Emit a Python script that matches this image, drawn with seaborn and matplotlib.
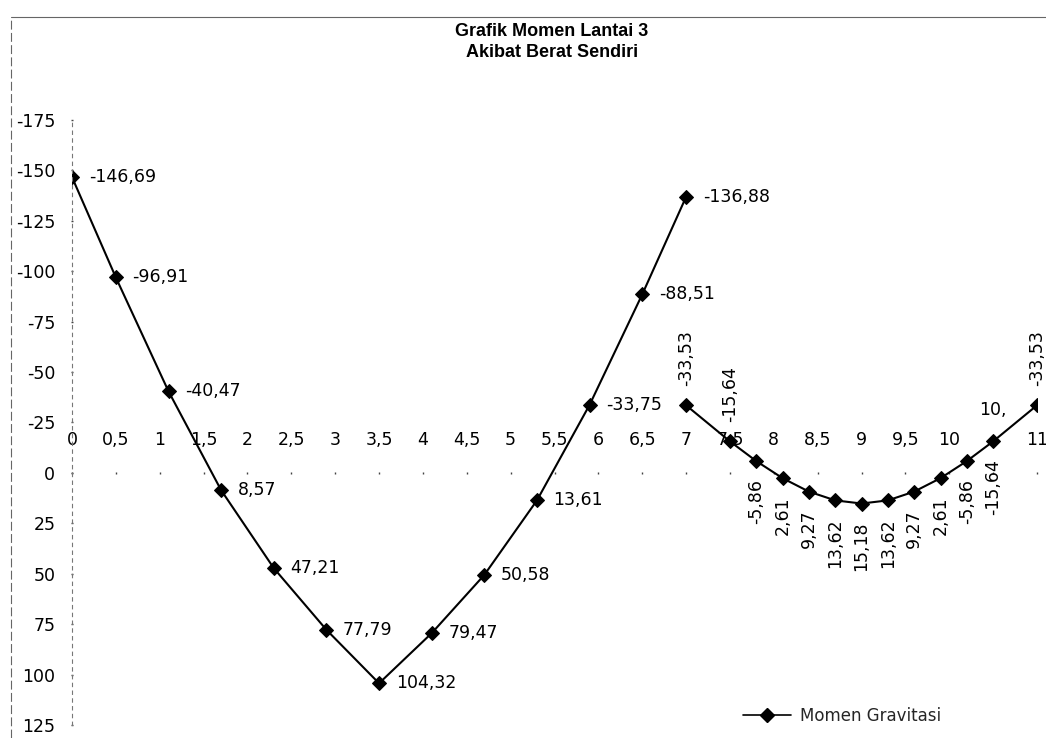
import matplotlib
matplotlib.use("Agg")
import matplotlib.pyplot as plt
from matplotlib.lines import Line2D
import pandas as pd
import seaborn as sns

# Bending moment, floor 3, self weight (kNm) along the beam (m)
x_span1 = [0.0, 0.5, 1.1, 1.7, 2.3, 2.9, 3.5, 4.1, 4.7, 5.3, 5.9, 6.5, 7.0]
m_span1 = [-146.69, -96.91, -40.47, 8.57, 47.21, 77.79, 104.32, 79.47, 50.58,
           13.61, -33.75, -88.51, -136.88]
x_span2 = [7.0, 7.5, 7.8, 8.1, 8.4, 8.7, 9.0, 9.3, 9.6, 9.9, 10.2, 10.5, 11.0]
m_span2 = [-33.53, -15.64, -5.86, 2.61, 9.27, 13.62, 15.18, 13.62, 9.27, 2.61,
           -5.86, -15.64, -33.53]

x_ticks = [0, 0.5, 1, 1.5, 2, 2.5, 3, 3.5, 4, 4.5, 5, 5.5, 6, 6.5, 7, 7.5, 8,
           8.5, 9, 9.5, 10, 10.5, 11]
x_tick_labels = ["0", "0,5", "1", "1,5", "2", "2,5", "3", "3,5", "4", "4,5",
                 "5", "5,5", "6", "6,5", "7", "7,5", "8", "8,5", "9", "9,5",
                 "10", "", "11"]
y_ticks = [-175, -150, -125, -100, -75, -50, -25, 0, 25, 50, 75, 100, 125]

series_name = "Momen Gravitasi"
title = "Grafik Momen Lantai 3\nAkibat Berat Sendiri"

sns.set_theme(style="white")
plt.rcParams["font.family"] = ["DejaVu Sans"]
plt.rcParams["axes.unicode_minus"] = False

W, H = 1046, 738
fig = plt.figure(figsize=(W / 100, H / 100), dpi=100)
fig.patch.set_facecolor("white")
ax = fig.add_axes([72 / W, 1 - 725 / H, (1037 - 72) / W, (725 - 120) / H])
ax.set_facecolor("white")

df = pd.concat([
    pd.DataFrame({"x": x_span1, "M": m_span1, "span": 1}),
    pd.DataFrame({"x": x_span2, "M": m_span2, "span": 2}),
])
sns.lineplot(data=df, x="x", y="M", units="span", estimator=None, sort=False,
             color="black", linewidth=1.5, marker="D", markersize=7.5,
             markeredgecolor="black", markerfacecolor="black", legend=False,
             ax=ax)

ax.set_xlim(0, 11)
ax.set_ylim(125, -175)
ax.set_xlabel("")
ax.set_ylabel("")

# category axis crosses the value axis at zero, labels sit above it
ax.spines["top"].set_position(("data", 0))
ax.spines["top"].set_visible(False)
ax.spines["bottom"].set_visible(False)
ax.spines["right"].set_visible(False)
ax.spines["left"].set_linestyle((0, (3, 4)))
ax.spines["left"].set_color("#777777")
ax.spines["left"].set_linewidth(0.8)

ax.xaxis.set_ticks_position("top")
ax.set_xticks(x_ticks)
ax.set_xticklabels(x_tick_labels)
ax.set_yticks(y_ticks)
ax.set_yticklabels([str(v) for v in y_ticks])
ax.tick_params(axis="x", top=True, bottom=False, labeltop=True,
               labelbottom=False, direction="inout", length=2, width=1,
               color="#444444", pad=16, labelsize=12.5, labelcolor="black")
ax.tick_params(axis="y", left=True, direction="inout", length=2, width=1,
               color="#444444", pad=11, labelsize=12.5, labelcolor="black")
ax.grid(False)


def fmt(v):
    return f"{v:.2f}".replace(".", ",")


# value labels, span 1: to the right of each point
for xv, mv in zip(x_span1, m_span1):
    ax.annotate(fmt(mv), (xv, mv), xytext=(12, 0), textcoords="offset points",
                ha="left", va="center", fontsize=12.5, color="black")

# value labels, span 2: rotated, above the end points and below the rest
above = {0, 1, len(x_span2) - 1}
for i, (xv, mv) in enumerate(zip(x_span2, m_span2)):
    if i in above:
        ax.annotate(fmt(mv), (xv, mv), xytext=(0, 14),
                    textcoords="offset points", ha="center", va="bottom",
                    rotation=90, fontsize=12.5, color="black")
    else:
        ax.annotate(fmt(mv), (xv, mv), xytext=(0, -13),
                    textcoords="offset points", ha="center", va="top",
                    rotation=90, fontsize=12.5, color="black")

ax.text(10.5, -31, "10,", ha="center", va="center", fontsize=12.5,
        color="black")

fig.text(552 / W, 1 - 42 / H, title, ha="center", va="center",
         fontsize=13, fontweight="bold", linespacing=1.25, color="black",
         family=["Liberation Sans", "DejaVu Sans"])

handle = Line2D([], [], color="black", linewidth=1.2, marker="D",
                markersize=7, markerfacecolor="black")
ax.legend(handles=[handle], labels=[series_name], loc="center left",
          bbox_to_anchor=(743 / W, 1 - 716 / H),
          bbox_transform=fig.transFigure, frameon=False, borderpad=0,
          borderaxespad=0, handlelength=2.9, handletextpad=0.5,
          prop={"size": 12})

# chart area border
fig.add_artist(Line2D([11 / W, 11 / W], [0, 1 - 17 / H],
                      transform=fig.transFigure, color="#666666",
                      linewidth=0.8, linestyle=(0, (8, 3))))
fig.add_artist(Line2D([11 / W, 1], [1 - 17 / H, 1 - 17 / H],
                      transform=fig.transFigure, color="#666666",
                      linewidth=0.8))

fig.savefig("out.png", dpi=100, facecolor="white")
